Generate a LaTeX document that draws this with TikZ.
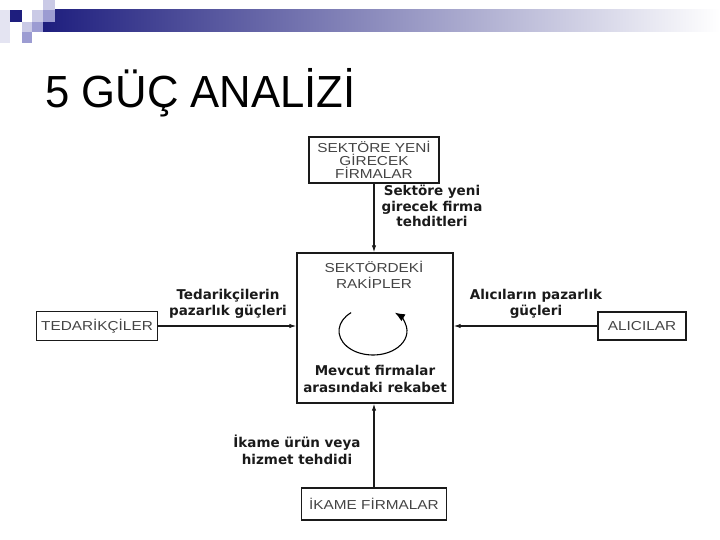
\documentclass[tikz,border=0pt]{standalone}
\usepackage{fontspec}
\setmainfont{Liberation Sans}
\newfontfamily\titlefont[FakeStretch=0.97]{Liberation Sans}
\newfontfamily\labelfont{DejaVu Sans}
\newfontfamily\boxfont[FakeStretch=1.18]{Liberation Sans}
\usepackage{tikz}
\usetikzlibrary{arrows.meta,positioning}
\definecolor{navy}{HTML}{1E1E7E}
\definecolor{lavlight}{HTML}{CACAE6}
\definecolor{lavmid}{HTML}{9C9CD2}
\definecolor{lavfaint}{HTML}{E4E4F2}
\definecolor{ink}{HTML}{1A1A1A}
\definecolor{boxink}{HTML}{444444}
\tikzset{
  >={Latex[length=7pt,width=4.5pt]},
  flow/.style={->,draw=ink,line width=1.1pt},
  firmbox/.style={draw=ink,line width=1.4pt,align=center,inner sep=0pt,
                  font=\boxfont\fontsize{13}{13}\selectfont,text=boxink},
  boxtext/.style={align=center,inner sep=0pt,font=\boxfont\fontsize{13}{15.5}\selectfont,text=boxink},
  forcelabel/.style={align=center,inner sep=0pt,text=ink,
                     font=\labelfont\bfseries\fontsize{13.5}{16.5}\selectfont},
}

\begin{document}
\begin{tikzpicture}[x=1pt,y=-1pt]
  \useasboundingbox (0,0) rectangle (720,540);
  % header bar and squares
  \fill[lavfaint] (0,10) rectangle (10,43);
  \shade[left color=navy,right color=white] (43,10) rectangle (720,32);
  \fill[navy] (10,10) rectangle (22,22);
  \fill[lavlight] (32,10) rectangle (43,22);
  \fill[lavlight] (43,0) rectangle (55,10);
  \fill[lavmid] (43,10) rectangle (55,22);
  \fill[lavlight] (22,22) rectangle (32,32);
  \fill[lavmid] (32,22) rectangle (43,32);
  \fill[lavmid] (22,32) rectangle (32,43);
  \node[anchor=base west,inner sep=0pt,font=\titlefont\fontsize{45}{50}\selectfont] (title) at (45,108) {5 GÜÇ ANALİZİ};

  % the five forces
  \node[firmbox,minimum width=130,minimum height=46] (entrants) at (374,160) {SEKTÖRE YENİ\\GİRECEK\\FİRMALAR};
  \node[draw=ink,line width=1.4pt,minimum width=156,minimum height=150] (rivals) at (375,328) {};
  \node[boxtext] (rivalsname) at (374,275) {SEKTÖRDEKİ\\RAKİPLER};
  \node[forcelabel] (rivalry) at (375,379) {Mevcut firmalar\\arasındaki rekabet};
  \node[firmbox,minimum width=121,minimum height=29] (suppliers) at (97,326) {TEDARİKÇİLER};
  \node[firmbox,minimum width=88,minimum height=28] (buyers) at (642,326) {ALICILAR};
  \node[firmbox,minimum width=145,minimum height=32] (substitutes) at (374,504) {İKAME FİRMALAR};

  \coordinate (spin) at (373,331);
  \draw[line width=1.1pt,-{Latex[length=10pt,width=8pt]}] ([shift={(230:34 and 24)}]spin)
    arc[start angle=230,end angle=-50,x radius=34,y radius=24];

  \draw[flow] (entrants.south) -- (entrants.south |- rivals.north);
  \draw[flow] (suppliers.east) -- (suppliers.east -| rivals.west);
  \draw[flow] (buyers.west) -- (buyers.west -| rivals.east);
  \draw[flow] (substitutes.north) -- (substitutes.north |- rivals.south);

  \node[forcelabel,font=\labelfont\bfseries\fontsize{13.5}{15.5}\selectfont] (entrantslbl) at (432,206) {Sektöre yeni\\girecek firma\\tehditleri};
  \node[forcelabel] (supplierslbl) at (228,304) {Tedarikçilerin\\pazarlık güçleri};
  \node[forcelabel] (buyerslbl) at (536,304) {Alıcıların pazarlık\\güçleri};
  \node[forcelabel] (substituteslbl) at (297,450) {İkame ürün veya\\hizmet tehdidi};
\end{tikzpicture}
\end{document}
